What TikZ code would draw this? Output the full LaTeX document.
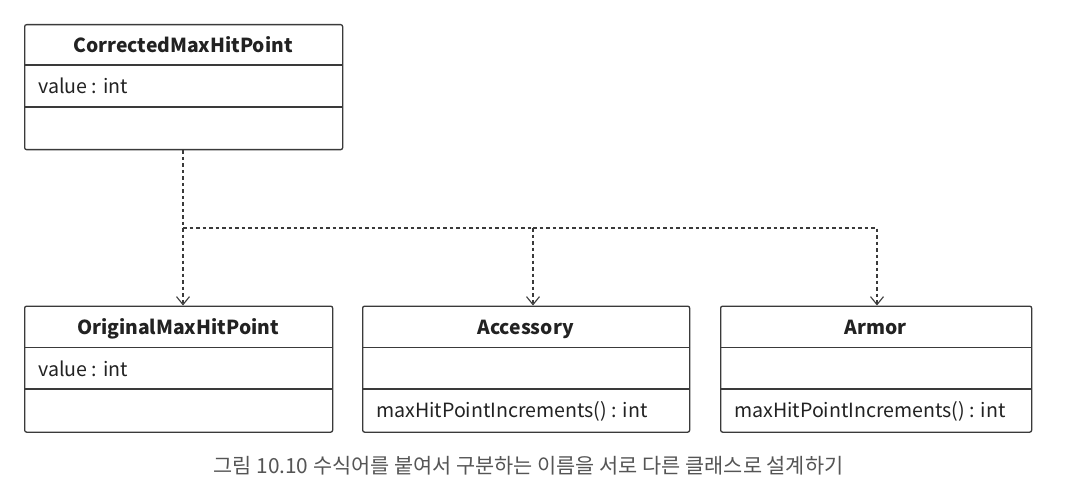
\documentclass[tikz,border=0pt]{standalone}
\usepackage{fontspec}
\setmainfont{Noto Sans CJK KR}
\usetikzlibrary{arrows.meta,calc}
\definecolor{linec}{HTML}{3A3A3A}
\definecolor{textc}{HTML}{222222}
\definecolor{capc}{HTML}{555555}
\begin{document}
\begin{tikzpicture}[x=1pt,y=-1pt,
  classbox/.style={draw=linec, line width=1.3pt, rounded corners=2pt, inner sep=0pt, anchor=north west},
  divider/.style={draw=linec, line width=1.2pt},
  cname/.style={font=\fontsize{19.3}{22}\selectfont\bfseries, text=textc, inner sep=0pt, anchor=base},
  member/.style={font=\fontsize{19.6}{22}\selectfont, text=textc, inner sep=0pt, anchor=base west},
  dep/.style={draw=linec, line width=1.1pt, dash pattern=on 3.5pt off 3pt},
  deparrow/.style={dep, -{Straight Barb[length=8pt,width=13pt,line width=1.1pt]}},
  caption/.style={font=\fontsize{20.8}{24}\selectfont, text=capc, inner sep=0pt}
]
\useasboundingbox (0,0) rectangle (1074,500);
\fill[white] (0,0) rectangle (1074,500);

% Top class
\node[classbox, minimum width=318pt, minimum height=125pt] (cmh) at (24,24) {};
\draw[divider] (24,65) -- (342,65);
\draw[divider] (24,107) -- (342,107);
\node[cname] (cmhname) at (183,52.5) {CorrectedMaxHitPoint};
\node[member] (cmhval) at (38,94) {value : int};

% OriginalMaxHitPoint
\node[classbox, minimum width=308pt, minimum height=126pt] (omh) at (24,305.5) {};
\draw[divider] (24,347.5) -- (332,347.5);
\draw[divider] (24,389) -- (332,389);
\node[cname] (omhname) at (178,334) {OriginalMaxHitPoint};
\node[member] (omhval) at (38,376.5) {value : int};

% Accessory
\node[classbox, minimum width=327pt, minimum height=126pt] (acc) at (362,305.5) {};
\draw[divider] (362,347.5) -- (689,347.5);
\draw[divider] (362,389) -- (689,389);
\node[cname] (accname) at (525.5,334) {Accessory};
\node[member] (accm) at (376,417) {maxHitPointIncrements() : int};

% Armor
\node[classbox, minimum width=311pt, minimum height=126pt] (arm) at (720,305.5) {};
\draw[divider] (720,347.5) -- (1031,347.5);
\draw[divider] (720,389) -- (1031,389);
\node[cname] (armname) at (875.5,334) {Armor};
\node[member] (armm) at (734,417) {maxHitPointIncrements() : int};

% connectors
\coordinate (junc) at (183,228);
\coordinate (omhin) at (183,305.5);
\coordinate (accin) at (533,305.5);
\coordinate (armin) at (877,305.5);
\draw[dep] (cmh.south -| junc) -- (junc);
\draw[deparrow] (junc) -- (omhin);
\draw[dep] (junc) -- (accin |- junc);
\draw[deparrow] (accin |- junc) -- (accin);
\draw[deparrow] (accin |- junc) -| (armin);

% caption
\node[caption] (cap) at (528.5,466) {그림 10.10 수식어를 붙여서 구분하는 이름을 서로 다른 클래스로 설계하기};
\end{tikzpicture}
\end{document}
